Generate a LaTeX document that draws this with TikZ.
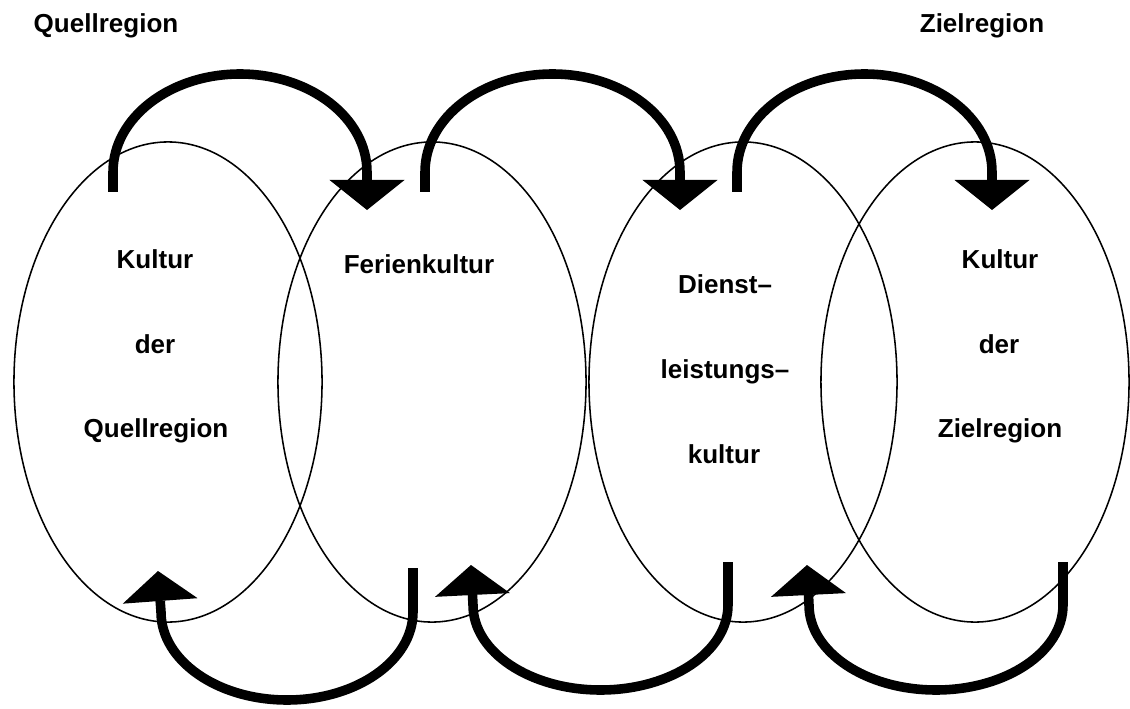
\documentclass[tikz,border=0pt]{standalone}
\usepackage{fontspec}
\setmainfont{Liberation Sans}
\usetikzlibrary{shapes.geometric,arrows.meta}
\tikzset{
  region/.style={ellipse,draw,line width=1.1pt,minimum width=7.7cm,minimum height=12cm,inner sep=0pt},
  lbl/.style={font=\bfseries\fontsize{18.5}{22}\selectfont,anchor=base,inner sep=0pt},
  bigarrow/.style={line width=6.8pt,-{Triangle[width=1.875cm,length=0.75cm,line width=0pt]}}
}
\begin{document}
\begin{tikzpicture}[x=0.025cm,y=-0.025cm]
\useasboundingbox (0,0) rectangle (1130,709);
\node[region] (quelle) at (168,382) {};
\node[region] (ferien) at (432,382) {};
\node[region] (dienst) at (743,382) {};
\node[region] (ziel) at (975,382) {};
\node[lbl] (tq) at (106,33) {Quellregion};
\node[lbl] (tz) at (982,33) {Zielregion};
\node[lbl] (q1) at (155,268) {Kultur};
\node[lbl] (q2) at (155,353) {der};
\node[lbl] (q3) at (156,437) {Quellregion};
\node[lbl] (f1) at (419,273) {Ferienkultur};
\node[lbl] (d1) at (725,293) {Dienst–};
\node[lbl] (d2) at (725,378) {leistungs–};
\node[lbl] (d3) at (724,463) {kultur};
\node[lbl] (z1) at (1000,268) {Kultur};
\node[lbl] (z2) at (999,353) {der};
\node[lbl] (z3) at (1000,437) {Zielregion};
\coordinate (qout) at (113,192);
\coordinate (fin) at (367,210);
\coordinate (fout) at (425,192);
\coordinate (din) at (680,210);
\coordinate (dout) at (737,192);
\coordinate (zin) at (992,210);
\coordinate (fback) at (413,568);
\coordinate (qback) at (158,571);
\coordinate (dback) at (728,562);
\coordinate (fback2) at (471,565);
\coordinate (zback) at (1063,562);
\coordinate (dback2) at (807,565);
\draw[bigarrow] (qout) -- ++(0,-20) arc[start angle=180,end angle=360,x radius=127,y radius=98] -- (fin);
\draw[bigarrow] (fout) -- ++(0,-20) arc[start angle=180,end angle=360,x radius=127.5,y radius=98] -- (din);
\draw[bigarrow] (dout) -- ++(0,-20) arc[start angle=180,end angle=360,x radius=127.5,y radius=98] -- (zin);
\draw[bigarrow] (fback) -- ++(0,44) arc[start angle=0,end angle=180,x radius=126,y radius=88] -- (qback);
\draw[bigarrow] (dback) -- ++(0,43) arc[start angle=0,end angle=180,x radius=127.5,y radius=85] -- (fback2);
\draw[bigarrow] (zback) -- ++(0,43) arc[start angle=0,end angle=180,x radius=127,y radius=85] -- (dback2);
\end{tikzpicture}
\end{document}
